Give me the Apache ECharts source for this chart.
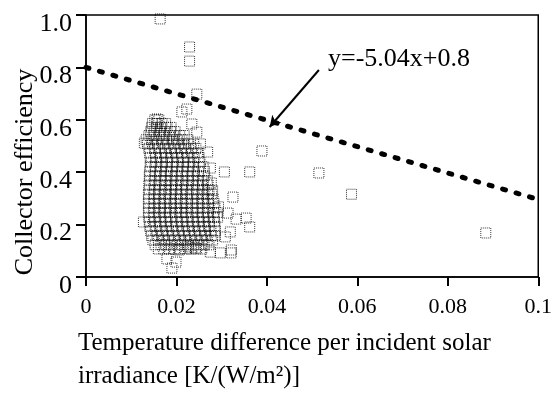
<!DOCTYPE html>
<html>
<head>
<meta charset="utf-8">
<script src="https://cdn.jsdelivr.net/npm/echarts@6/dist/echarts.min.js"></script>
<style>
  html, body { margin: 0; padding: 0; background: #fff; }
  #chart { width: 555px; height: 405px; }
</style>
</head>
<body>
<div id="chart"></div>
<script>
'use strict';

var FONT = '"Liberation Serif", "Times New Roman", serif';

var xTicks = [0, 0.02, 0.04, 0.06, 0.08, 0.1];
var yTicks = [0, 0.2, 0.4, 0.6, 0.8, 1.0];

// fitted line y = -5.04x + 0.8
var fitSlope = -5.04;
var fitIntercept = 0.8;
var fitLabel = 'y=-5.04x+0.8';

// dense cloud of measurements, read row by row: [efficiency, [temp. difference values]]
var clusterRows = [
    [0.600, [0.0152, 0.0161]],
    [0.586, [0.0147, 0.0157, 0.0168, 0.0176]],
    [0.571, [0.0145, 0.0156, 0.0165, 0.0179, 0.0188]],
    [0.555, [0.0143, 0.0151, 0.0163, 0.0174, 0.0187, 0.0197]],
    [0.540, [0.0139, 0.0150, 0.0162, 0.0172, 0.0184, 0.0193, 0.0207, 0.0217]],
    [0.524, [0.0133, 0.0145, 0.0155, 0.0168, 0.0178, 0.0191, 0.0201, 0.0212, 0.0225]],
    [0.508, [0.0136, 0.0147, 0.0159, 0.0171, 0.0181, 0.0194, 0.0205, 0.0217, 0.0227, 0.0238]],
    [0.491, [0.0139, 0.0152, 0.0162, 0.0175, 0.0186, 0.0196, 0.0210, 0.0220, 0.0233, 0.0243]],
    [0.473, [0.0141, 0.0153, 0.0166, 0.0176, 0.0189, 0.0200, 0.0211, 0.0224, 0.0235, 0.0248]],
    [0.456, [0.0142, 0.0154, 0.0165, 0.0178, 0.0190, 0.0203, 0.0214, 0.0225, 0.0239, 0.0250]],
    [0.438, [0.0144, 0.0155, 0.0168, 0.0179, 0.0191, 0.0202, 0.0216, 0.0227, 0.0238, 0.0252]],
    [0.421, [0.0142, 0.0153, 0.0166, 0.0177, 0.0190, 0.0201, 0.0214, 0.0226, 0.0237, 0.0250, 0.0259]],
    [0.403, [0.0141, 0.0154, 0.0165, 0.0178, 0.0189, 0.0202, 0.0213, 0.0224, 0.0237, 0.0249, 0.0262]],
    [0.386, [0.0140, 0.0152, 0.0164, 0.0175, 0.0188, 0.0199, 0.0212, 0.0224, 0.0235, 0.0248, 0.0261]],
    [0.368, [0.0141, 0.0153, 0.0166, 0.0177, 0.0188, 0.0201, 0.0213, 0.0226, 0.0237, 0.0249, 0.0259, 0.0268]],
    [0.351, [0.0139, 0.0151, 0.0162, 0.0175, 0.0187, 0.0198, 0.0211, 0.0222, 0.0235, 0.0247, 0.0258, 0.0270]],
    [0.333, [0.0140, 0.0152, 0.0164, 0.0176, 0.0189, 0.0200, 0.0212, 0.0223, 0.0236, 0.0248, 0.0261, 0.0272]],
    [0.316, [0.0138, 0.0150, 0.0161, 0.0174, 0.0186, 0.0198, 0.0209, 0.0222, 0.0234, 0.0245, 0.0258, 0.0269, 0.0278]],
    [0.298, [0.0139, 0.0151, 0.0163, 0.0176, 0.0187, 0.0199, 0.0211, 0.0224, 0.0235, 0.0247, 0.0260, 0.0271, 0.0281]],
    [0.281, [0.0138, 0.0150, 0.0162, 0.0173, 0.0186, 0.0197, 0.0210, 0.0221, 0.0234, 0.0246, 0.0257, 0.0270, 0.0283]],
    [0.263, [0.0139, 0.0151, 0.0164, 0.0175, 0.0187, 0.0200, 0.0211, 0.0223, 0.0236, 0.0247, 0.0259, 0.0272, 0.0285]],
    [0.246, [0.0138, 0.0149, 0.0162, 0.0174, 0.0185, 0.0198, 0.0210, 0.0221, 0.0234, 0.0246, 0.0258, 0.0270, 0.0282, 0.0290]],
    [0.228, [0.0139, 0.0151, 0.0163, 0.0176, 0.0187, 0.0199, 0.0212, 0.0223, 0.0235, 0.0248, 0.0259, 0.0271, 0.0283, 0.0291]],
    [0.211, [0.0140, 0.0152, 0.0165, 0.0176, 0.0188, 0.0201, 0.0212, 0.0224, 0.0237, 0.0248, 0.0260, 0.0273, 0.0284]],
    [0.193, [0.0141, 0.0153, 0.0164, 0.0177, 0.0189, 0.0200, 0.0213, 0.0225, 0.0236, 0.0249, 0.0261, 0.0272, 0.0285]],
    [0.176, [0.0143, 0.0155, 0.0168, 0.0179, 0.0191, 0.0204, 0.0215, 0.0227, 0.0240, 0.0251, 0.0263, 0.0276, 0.0286]],
    [0.158, [0.0145, 0.0157, 0.0169, 0.0182, 0.0193, 0.0205, 0.0218, 0.0229, 0.0241, 0.0254, 0.0265, 0.0277, 0.0285]],
    [0.141, [0.0148, 0.0160, 0.0173, 0.0184, 0.0196, 0.0209, 0.0220, 0.0232, 0.0245, 0.0256, 0.0268, 0.0280]],
    [0.123, [0.0153, 0.0166, 0.0177, 0.0189, 0.0202, 0.0213, 0.0225, 0.0238, 0.0249, 0.0261, 0.0272]],
    [0.107, [0.0160, 0.0172, 0.0185, 0.0196, 0.0208, 0.0221, 0.0232, 0.0244, 0.0256]]
];

// points standing apart from the cloud: [temp. difference, efficiency]
var outliers = [
    [0.0164, 0.985], [0.0229, 0.878], [0.0229, 0.824], [0.0245, 0.698],
    [0.0212, 0.630], [0.0223, 0.641], [0.0234, 0.584], [0.0245, 0.553],
    [0.0253, 0.508], [0.0269, 0.477], [0.0389, 0.481], [0.0306, 0.401],
    [0.0362, 0.401], [0.0515, 0.397], [0.0587, 0.316], [0.0884, 0.168],
    [0.0325, 0.305], [0.0354, 0.225], [0.0362, 0.191], [0.0332, 0.221],
    [0.0314, 0.244], [0.0319, 0.172], [0.0308, 0.153], [0.0321, 0.103],
    [0.0321, 0.092], [0.0297, 0.092], [0.0275, 0.095], [0.0242, 0.111],
    [0.0227, 0.115], [0.0205, 0.103], [0.0179, 0.069], [0.0199, 0.057],
    [0.0190, 0.034], [0.0127, 0.210], [0.0275, 0.416], [0.0277, 0.359],
    [0.0157, 0.603], [0.0129, 0.511], [0.0280, 0.330], [0.0293, 0.268]
];

// where the label's pointer starts and ends (data units)
var pointerFrom = [0.0515, 0.79];
var pointerTo = [0.0406, 0.5725];

var scatterData = [];
clusterRows.forEach(function(row) {
    row[1].forEach(function(x) {
        scatterData.push([x, row[0]]);
    });
});
outliers.forEach(function(p) {
    scatterData.push(p);
});

var xMin = xTicks[0];
var xMax = xTicks[xTicks.length - 1];
var yMin = yTicks[0];
var yMax = yTicks[yTicks.length - 1];
var fitData = [
    [xMin, fitIntercept + fitSlope * xMin],
    [xMax, fitIntercept + fitSlope * xMax]
];

var chart = echarts.init(document.getElementById('chart'), null, {renderer: 'canvas'});

var frameLine = {color: '#000', width: 1.5};
var tickLine = {color: '#000', width: 2};

chart.setOption({
    animation: false,
    backgroundColor: '#fff',
    grid: {
        left: 86, right: 11, top: 15, bottom: 128,
        show: true, borderColor: '#000', borderWidth: 1.5
    },
    xAxis: {
        type: 'value',
        min: xMin, max: xMax, interval: 0.02,
        splitLine: {show: false},
        axisLine: {show: true, lineStyle: frameLine},
        axisTick: {show: true, length: 9, lineStyle: tickLine},
        axisLabel: {
            margin: 19, color: '#000', fontFamily: FONT, fontSize: 22,
            showMaxLabel: true,
            formatter: function(v) { return String(+v.toFixed(2)); }
        }
    },
    yAxis: {
        type: 'value',
        min: yMin, max: yMax, interval: 0.2,
        splitLine: {show: false},
        axisLine: {show: true, lineStyle: frameLine},
        axisTick: {show: true, length: 10, lineStyle: tickLine},
        axisLabel: {
            margin: 14, color: '#000', fontFamily: FONT, fontSize: 26,
            verticalAlign: 'top', lineHeight: 18,
            formatter: function(v) { return v === 0 ? '0' : v.toFixed(1); }
        }
    },
    graphic: [
        {
            type: 'text', x: 25, y: 172, rotation: Math.PI / 2,
            style: {
                text: 'Collector efficiency', fill: '#000',
                font: '26px ' + FONT, textAlign: 'center', textVerticalAlign: 'middle'
            }
        },
        {
            type: 'text', left: 78, top: 327,
            style: {
                text: 'Temperature difference per incident solar\nirradiance [K/(W/m\u00b2)]',
                fill: '#000', font: '25px ' + FONT, lineHeight: 33
            }
        },
        {
            type: 'text', left: 328, top: 46,
            style: {text: fitLabel, fill: '#000', font: '26px ' + FONT}
        }
    ],
    series: [
        {
            type: 'scatter',
            data: scatterData,
            symbol: 'rect',
            symbolSize: 10,
            itemStyle: {
                color: 'rgba(0,0,0,0)',
                borderColor: '#000',
                borderWidth: 1,
                borderType: 'dotted'
            },
            silent: true
        },
        {
            type: 'line',
            data: fitData,
            symbol: 'none',
            silent: true,
            lineStyle: {color: '#000', width: 5, type: [3, 11], cap: 'round'},
            markLine: {
                silent: true,
                symbol: ['none', 'arrow'],
                symbolSize: [9, 11],
                label: {show: false},
                lineStyle: {color: '#000', width: 2, type: 'solid'},
                data: [[{coord: pointerFrom}, {coord: pointerTo}]]
            },
            z: 3
        }
    ]
});
</script>
</body>
</html>
